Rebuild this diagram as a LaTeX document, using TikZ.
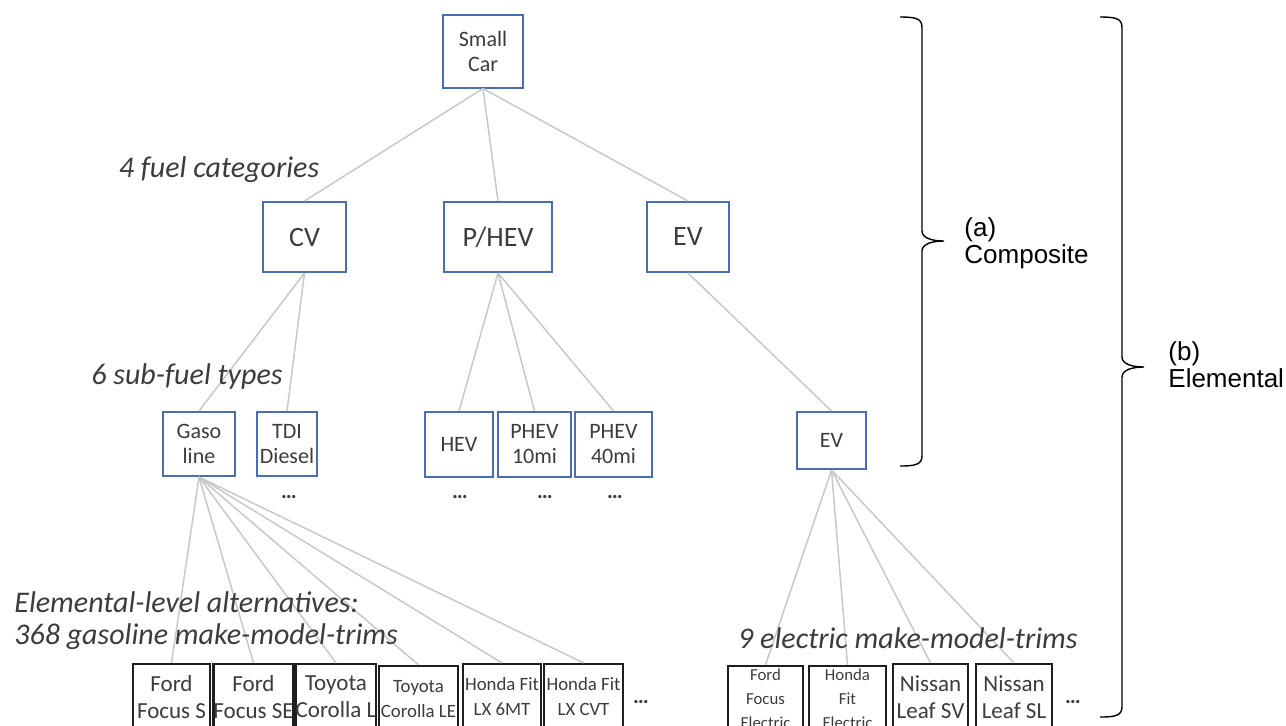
\documentclass[tikz,border=0pt]{standalone}
\usepackage{fontspec}
\setmainfont{Carlito}
\newfontfamily\arialfont{Liberation Sans}
\usetikzlibrary{positioning}
\definecolor{cBox}{HTML}{4A6EB5}
\definecolor{cLine}{HTML}{C8C8C8}
\definecolor{cText}{HTML}{3C3C3C}
\definecolor{cTrim}{HTML}{1E1E1E}

\begin{document}
\begin{tikzpicture}[
    x=0.5pt, y=-0.5pt,
    % --- Node styles ---
    block/.style={
        draw, inner sep=0pt, align=center, text=cText
    },
    cat/.style={block, draw=cBox, line width=1pt, minimum height=35pt,
        font=\fontsize{14}{16}\selectfont},
    sub/.style={block, draw=cBox, line width=1pt, minimum height=32pt,
        font=\fontsize{11}{12.5}\selectfont},
    trim/.style={block, draw=cTrim, line width=1.1pt, minimum height=33pt,
        font=\fontsize{11.5}{13.5}\selectfont},
    trims/.style={trim, font=\fontsize{9.4}{12.5}\selectfont},
    trimt/.style={trim, font=\fontsize{8.4}{12}\selectfont},
    % --- Connector styles ---
    lnk/.style={draw=cLine, line width=0.75pt},
    % --- Annotation styles ---
    lvl/.style={font=\fontsize{15}{16}\selectfont\itshape, text=cText, inner sep=0pt},
    more/.style={font=\fontsize{11}{12}\selectfont\bfseries, text=cText, inner sep=0pt},
    brc/.style={draw=black, line width=0.7pt},
    brclabel/.style={font=\arialfont\fontsize{13}{13.5}\selectfont, align=left,
        anchor=west, inner sep=0pt},
]

\useasboundingbox (0,0) rectangle (1286,725);
\clip (0,0) rectangle (1286,725);

% =============================================
% TOP AND FUEL CATEGORIES
% =============================================

\node[sub, minimum width=40pt, minimum height=36.5pt] (sc) at (483,51) {Small\\Car};

\node[cat, minimum width=41.5pt] (cv)   at (304.5,237) {CV};
\node[cat, minimum width=54pt]   (phev) at (498,237)   {P/HEV};
\node[cat, minimum width=41pt]   (ev)   at (688,237)   {EV};

% =============================================
% SUB-FUEL TYPES
% =============================================

\node[sub, minimum width=36pt] (gas) at (199,444) {Gaso\\line};
\node[sub, minimum width=30pt] (tdi) at (287,444) {TDI\\Diesel};

\node[sub, minimum width=34pt, minimum height=32.5pt]   (hev)   at (459,444.5)   {HEV};
\node[sub, minimum width=36.5pt, minimum height=32.5pt] (ph10)  at (534.5,444.5) {PHEV\\10mi};
\node[sub, minimum width=38.5pt, minimum height=32.5pt] (ph40)  at (613.5,444.5) {PHEV\\40mi};

\node[sub, minimum width=34.5pt, minimum height=28.5pt] (evs) at (831.5,440.5) {EV};

% more sub-types
\node[more] (tdim)  at (289,497) {…};
\node[more] (hevm)  at (460,497) {…};
\node[more] (ph10m) at (545,497) {…};
\node[more] (ph40m) at (615,497) {…};

% =============================================
% ELEMENTAL MAKE-MODEL-TRIMS
% =============================================

\node[trim,  minimum width=38.5pt] (ffs)  at (171.5,697) {Ford\\Focus S};
\node[trim,  minimum width=39.5pt] (ffse) at (253.5,697) {Ford\\Focus SE};
\node[trim,  minimum width=39pt]   (tcl)  at (336,697)   {Toyota\\Corolla L};
\node[trims, minimum width=39.5pt] (tcle) at (418.5,699) {Toyota\\Corolla LE};
\node[trims, minimum width=39pt]   (hf6)  at (502,697)   {Honda Fit\\LX 6MT};
\node[trims, minimum width=39.5pt] (hfc)  at (583.5,697) {Honda Fit\\LX CVT};
\node[more] (gasm) at (641,702) {…};

\node[trimt, minimum width=37.5pt] (ffe)  at (765.5,699) {Ford\\Focus\\Electric};
\node[trimt, minimum width=38.5pt] (hfe)  at (847.5,699) {Honda\\Fit\\Electric};
\node[trim,  minimum width=37.5pt] (lsv)  at (930.5,697) {Nissan\\Leaf SV};
\node[trim,  minimum width=38pt]   (lsl)  at (1014,697)  {Nissan\\Leaf SL};
\node[more] (evm) at (1073,702) {…};

% =============================================
% CONNECTORS
% =============================================

\draw[lnk] (sc.south) -- (cv.north);
\draw[lnk] (sc.south) -- (phev.north);
\draw[lnk] (sc.south) -- (ev.north);

\draw[lnk] (cv.south) -- (gas.north);
\draw[lnk] (cv.south) -- (tdi.north);
\draw[lnk] (phev.south) -- (hev.north);
\draw[lnk] (phev.south) -- (ph10.north);
\draw[lnk] (phev.south) -- (ph40.north);
\draw[lnk] (ev.south) -- (evs.north);

\draw[lnk] (gas.south) -- (ffs.north);
\draw[lnk] (gas.south) -- (ffse.north);
\draw[lnk] (gas.south) -- (tcl.north);
\draw[lnk] (gas.south) -- (tcle.north);
\draw[lnk] (gas.south) -- (hf6.north);
\draw[lnk] (gas.south) -- (hfc.north);

\draw[lnk] (evs.south) -- (ffe.north);
\draw[lnk] (evs.south) -- (hfe.north);
\draw[lnk] (evs.south) -- (lsv.north);
\draw[lnk] (evs.south) -- (lsl.north);

% =============================================
% LEVEL ANNOTATIONS
% =============================================

\node[lvl] (fuel) at (219,170) {4 fuel categories};
\node[lvl] (subf) at (187,376) {6 sub-fuel types};
\node[lvl, anchor=west, align=left] (elem) at (14,621)
    {Elemental-level alternatives:\\368 gasoline make-model-trims};
\node[lvl, anchor=east] (elec) at (1078,638) {9 electric make-model-trims};

% =============================================
% BRACES (small curls, pointed middle)
% =============================================

\coordinate (atop) at (900,17);
\coordinate (btop) at (1100,17);

% (a) composite: y 17 .. 466
\draw[brc] (atop)
    .. controls +(14,0) and +(0,-9) .. ++(22,10)
    -- ++(0,204)
    .. controls +(0,7) and +(-12,0) .. ++(22,10)
    .. controls +(-12,0) and +(0,-7) .. ++(-22,10)
    -- ++(0,205)
    .. controls +(0,9) and +(14,0) .. ++(-22,10);

% (b) elemental: y 17 .. 717
\draw[brc] (btop)
    .. controls +(14,0) and +(0,-9) .. ++(22,10)
    -- ++(0,330)
    .. controls +(0,7) and +(-12,0) .. ++(22,10)
    .. controls +(-12,0) and +(0,-7) .. ++(-22,10)
    -- ++(0,330)
    .. controls +(0,9) and +(14,0) .. ++(-22,10);

\node[brclabel] (alab) at (964,243) {(a)\\Composite};
\node[brclabel] (blab) at (1168,365) {(b)\\Elemental};

\end{tikzpicture}
\end{document}
